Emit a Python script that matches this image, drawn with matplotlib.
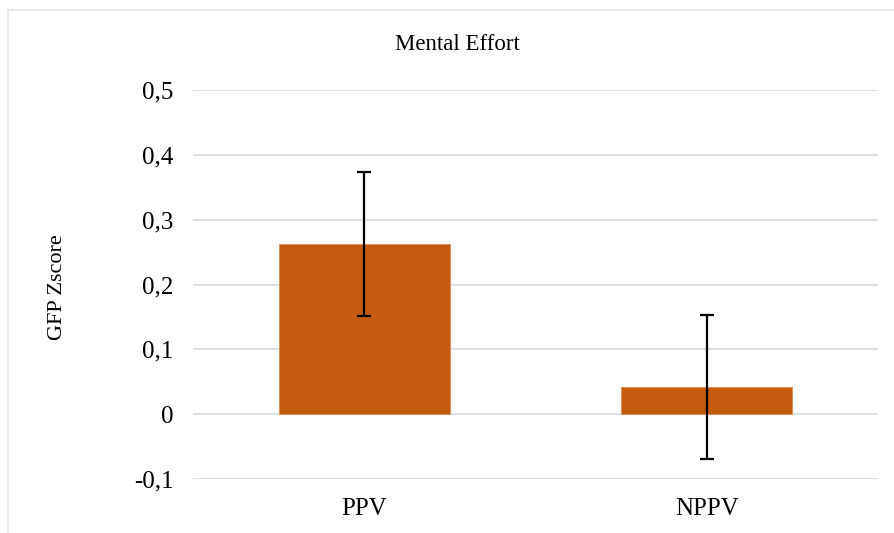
import matplotlib.pyplot as plt
from matplotlib.patches import Rectangle
from matplotlib.ticker import FuncFormatter

categories = ['PPV', 'NPPV']
means = [0.262, 0.042]
errors = [0.111, 0.111]
yticks = [-0.1, 0, 0.1, 0.2, 0.3, 0.4, 0.5]

plt.rcParams['font.family'] = ['Liberation Serif', 'DejaVu Serif']

fig = plt.figure(figsize=(8.94, 5.33), dpi=100)
ax = fig.add_axes([193 / 894, 1 - 479 / 533, 685 / 894, 389 / 533])

# Light chart-area border (left and top edges visible)
fig.patches.append(Rectangle((8 / 894, -0.1), 1.2, 1 - 10 / 533 + 0.1,
                             transform=fig.transFigure, fill=False,
                             edgecolor='#e6e6e6', linewidth=1.2))

x = range(len(categories))
ax.bar(x, means, width=0.5, color='#c55a11', edgecolor='#e08a50',
       linewidth=0.6, zorder=2)
ax.errorbar(x, means, yerr=errors, fmt='none', ecolor='black',
            elinewidth=1.6, capsize=4.8, capthick=1.6, zorder=3)

ax.set_xlim(-0.5, 1.5)
ax.set_ylim(-0.1, 0.5)
ax.set_yticks(yticks)
ax.yaxis.set_major_formatter(FuncFormatter(
    lambda v, p: '0' if abs(v) < 1e-9 else f'{v:.1f}'.replace('.', ',')))
ax.set_xticks(list(x))
ax.set_xticklabels(categories)

ax.grid(axis='y', color='#d9d9d9', linewidth=1.2, zorder=0)
for s in ax.spines.values():
    s.set_visible(False)
ax.tick_params(length=0, labelsize=18, colors='black')
ax.tick_params(axis='y', pad=14)
ax.tick_params(axis='x', pad=14)

fig.text(457 / 894, 1 - 45 / 533, 'Mental Effort', fontsize=16.5,
         ha='center', va='center')
fig.text(58 / 894, 1 - 287 / 533, 'GFP Zscore', fontsize=16,
         rotation=90, ha='center', va='center')

fig.savefig('out.png', dpi=100)
